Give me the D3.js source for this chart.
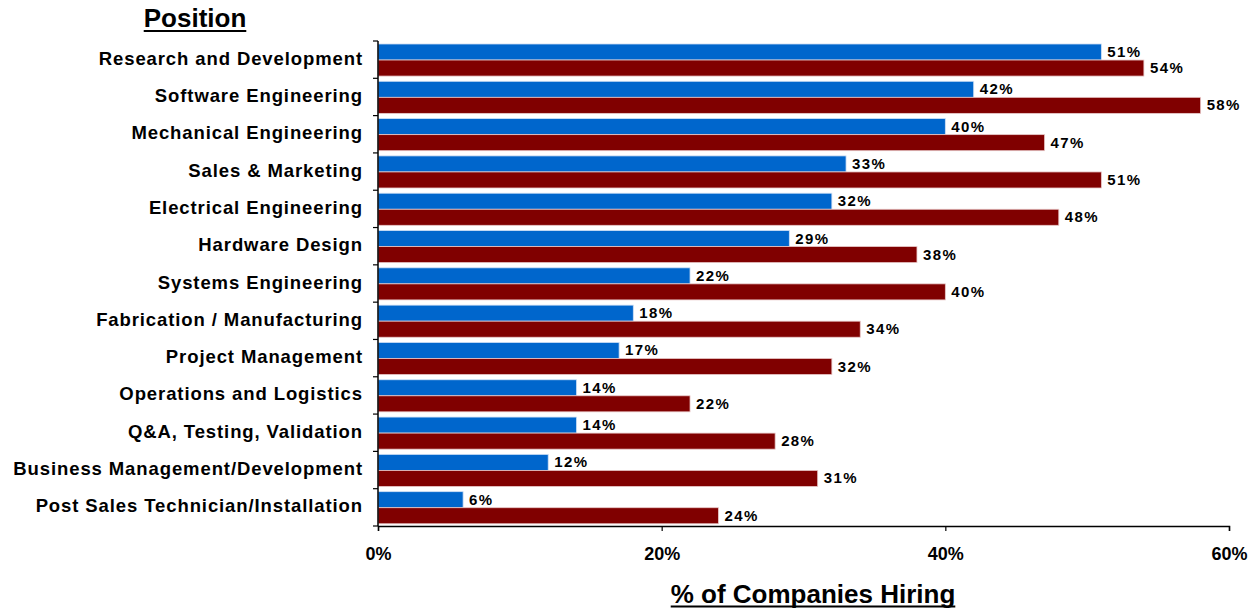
<!DOCTYPE html>
<html>
<head>
<meta charset="utf-8">
<script src="https://cdn.jsdelivr.net/npm/d3@7"></script>
<style>
  html, body { margin: 0; padding: 0; background: #fff; }
  svg { display: block; }
  .cat { font-family: "Liberation Sans", Arial, sans-serif; font-weight: bold; font-size: 18.5px; letter-spacing: 0.9px; }
  .val { font-family: "Liberation Sans", Arial, sans-serif; font-weight: bold; font-size: 15px; letter-spacing: 1.4px; }
  .tick text { font-family: "Liberation Sans", Arial, sans-serif; font-weight: bold; font-size: 18px; }
</style>
</head>
<body>
<svg id="chart" width="1258" height="611"></svg>
<script>
// Positions, top to bottom
const positions = [
  "Research and Development",
  "Software Engineering",
  "Mechanical Engineering",
  "Sales & Marketing",
  "Electrical Engineering",
  "Hardware Design",
  "Systems Engineering",
  "Fabrication / Manufacturing",
  "Project Management",
  "Operations and Logistics",
  "Q&A, Testing, Validation",
  "Business Management/Development",
  "Post Sales Technician/Installation"
];
// Share of companies hiring (%), first series (blue)
const seriesBlue = [51, 42, 40, 33, 32, 29, 22, 18, 17, 14, 14, 12, 6];
// Share of companies hiring (%), second series (dark red)
const seriesRed = [54, 58, 47, 51, 48, 38, 40, 34, 32, 22, 28, 31, 24];
const xTicks = [0, 20, 40, 60];

const svg = d3.select("#chart");
const plotLeft = 378, plotRight = 1229, plotTop = 41, plotBottom = 526;

const x = d3.scaleLinear().domain([0, 60]).range([plotLeft, plotRight]);
const y = d3.scaleBand().domain(positions).range([plotTop, plotBottom]).paddingInner(0).paddingOuter(0);
const step = y.bandwidth();
const barH = step * 0.43;
const barOff = step * 0.08;

const rows = positions.map((p, i) => ({ p, a: seriesBlue[i], b: seriesRed[i] }));

const g = svg.append("g");

// Bars
g.selectAll("rect.blue").data(rows).join("rect")
  .attr("x", x(0)).attr("y", d => y(d.p) + barOff)
  .attr("width", d => x(d.a) - x(0)).attr("height", barH)
  .attr("fill", "#0066CC").attr("stroke", "#cfe0f5").attr("stroke-width", 0.8);
g.selectAll("rect.red").data(rows).join("rect")
  .attr("x", x(0)).attr("y", d => y(d.p) + barOff + barH)
  .attr("width", d => x(d.b) - x(0)).attr("height", barH)
  .attr("fill", "#800000").attr("stroke", "#e8c8c8").attr("stroke-width", 0.8);

// Value labels
g.selectAll("text.va").data(rows).join("text").attr("class", "val")
  .attr("x", d => x(d.a) + 6).attr("y", d => y(d.p) + barOff + barH / 2 + 5)
  .text(d => d.a + "%");
g.selectAll("text.vb").data(rows).join("text").attr("class", "val")
  .attr("x", d => x(d.b) + 6).attr("y", d => y(d.p) + barOff + barH * 1.5 + 5)
  .text(d => d.b + "%");

// Y axis with category boundaries as ticks
const yAxisG = svg.append("g").attr("transform", `translate(${plotLeft},0)`);
yAxisG.append("line").attr("x1", 0).attr("x2", 0).attr("y1", plotTop).attr("y2", plotBottom)
  .attr("stroke", "#000").attr("stroke-width", 1.5);
const bounds = positions.map(p => y(p)).concat([plotBottom]);
yAxisG.selectAll("line.b").data(bounds).join("line")
  .attr("x1", -5).attr("x2", 0).attr("y1", d => d).attr("y2", d => d)
  .attr("stroke", "#000").attr("stroke-width", 1.2);
yAxisG.selectAll("text").data(positions).join("text").attr("class", "cat")
  .attr("x", -15).attr("y", d => y(d) + step / 2 + 5)
  .attr("text-anchor", "end").text(d => d);

// X axis
const xAxis = d3.axisBottom(x).tickValues(xTicks).tickFormat(d => d + "%").tickSize(5).tickPadding(16);
const xg = svg.append("g").attr("transform", `translate(0,${plotBottom})`).call(xAxis);
xg.select(".domain").attr("stroke", "#000").attr("stroke-width", 1.5);
xg.selectAll(".tick line").attr("stroke", "#000").attr("stroke-width", 1.2);
xg.selectAll(".tick text").attr("fill", "#000");

// Titles
function underlined(text, cx, by, size, gap) {
  const t = svg.append("text").attr("x", cx).attr("y", by).attr("text-anchor", "middle")
    .attr("font-family", "'Liberation Sans', Arial, sans-serif").attr("font-weight", "bold").attr("font-size", size)
    .text(text);
  const bb = t.node().getBBox();
  svg.append("line").attr("x1", bb.x).attr("x2", bb.x + bb.width)
    .attr("y1", by + gap).attr("y2", by + gap).attr("stroke", "#000").attr("stroke-width", 1.8);
}
underlined("Position", 195, 27, 26, 4);
underlined("% of Companies Hiring", 813, 603, 26, 3.5);
</script>
</body>
</html>
